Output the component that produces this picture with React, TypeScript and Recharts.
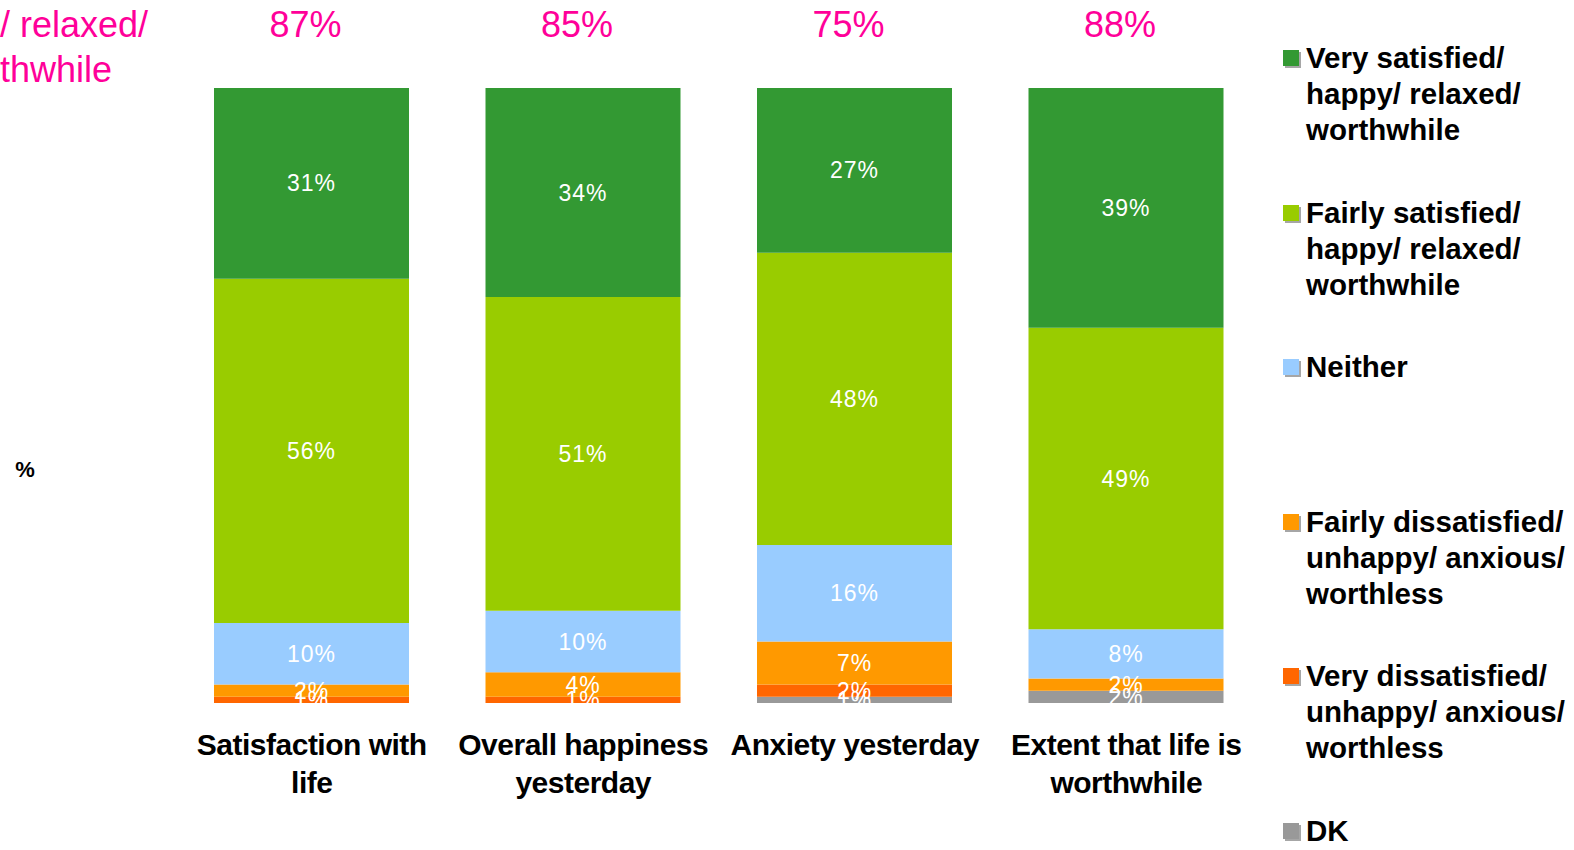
import React from 'react';
import { BarChart, Bar, XAxis, YAxis, LabelList, Legend } from 'recharts';

const categories = ['Satisfaction with life', 'Overall happiness yesterday', 'Anxiety yesterday', 'Extent that life is worthwhile'];
const categoryLines = [['Satisfaction with', 'life'], ['Overall happiness', 'yesterday'], ['Anxiety yesterday'], ['Extent that life is', 'worthwhile']];
const verySatisfied = [31, 34, 26.8, 39];
const fairlySatisfied = [56, 51, 47.5, 49];
const neither = [10, 10, 15.7, 8];
const fairlyDissatisfied = [2, 4, 7, 2];
const veryDissatisfied = [1, 1, 2, 0];
const dontKnow = [0, 0, 1, 2];
const netSatisfied = [87, 85, 75, 88];

const seriesKeys = ['verySat', 'fairlySat', 'neither', 'fairlyDis', 'veryDis', 'dk'];
const seriesNames = [
  ['Very satisfied/', 'happy/ relaxed/', 'worthwhile'],
  ['Fairly satisfied/', 'happy/ relaxed/', 'worthwhile'],
  ['Neither'],
  ['Fairly dissatisfied/', 'unhappy/ anxious/', 'worthless'],
  ['Very dissatisfied/', 'unhappy/ anxious/', 'worthless'],
  ['DK'],
];
const seriesColors = ['#339933', '#99CC00', '#99CCFF', '#FF9900', '#FF6600', '#999999'];
const seriesValues = [verySatisfied, fairlySatisfied, neither, fairlyDissatisfied, veryDissatisfied, dontKnow];

const data = categories.map((c, i) => {
  const row: any = { name: c, net: netSatisfied[i] };
  seriesKeys.forEach((k, s) => { row[k] = seriesValues[s][i]; });
  return row;
});

const FONT = '"Liberation Sans", Arial, sans-serif';

const Tick = (props: any) => {
  const { x, y, payload } = props;
  const lines = categoryLines[payload.index] || [payload.value];
  return (
    <text x={x} y={y} textAnchor="middle" fontFamily={FONT} fontSize={30} fontWeight="bold" fill="#000" letterSpacing={-0.5}>
      {lines.map((l, i) => (
        <tspan key={i} x={x} dy={i === 0 ? 44 : 38}>{l}</tspan>
      ))}
    </text>
  );
};

const ValueLabel = (props: any) => {
  const { x, y, width, height, value } = props;
  if (value === undefined || value === null) return null;
  return (
    <text x={x + width / 2} y={y + height / 2} dy={8} textAnchor="middle" fontFamily={FONT} fontSize={23} fill="#fff" letterSpacing={1}>
      {Math.round(value)}%
    </text>
  );
};

const NetLabel = (props: any) => {
  const { x, width, value } = props;
  return (
    <text x={x + width / 2 - 6} y={37} textAnchor="middle" fontFamily={FONT} fontSize={36} fill="#FF0099">
      {value}%
    </text>
  );
};

const LegendContent = () => (
  <div style={{ fontFamily: FONT, fontSize: 29.5, fontWeight: 'bold', color: '#000', lineHeight: '36px' }}>
    {seriesNames.map((lines, i) => (
      <div key={i} style={{ position: 'absolute', left: 0, top: i * 154.5, whiteSpace: 'nowrap' }}>
        <div style={{ position: 'absolute', left: 0, top: 10, width: 16, height: 16, background: seriesColors[i], boxShadow: '2px 2px 0 rgba(0,0,0,0.35)' }} />
        <div style={{ position: 'absolute', left: 23, top: 0 }}>
          {lines.map((l, j) => <div key={j}>{l}</div>)}
        </div>
      </div>
    ))}
  </div>
);

const stackOrder = [5, 4, 3, 2, 1, 0];

export default function App() {
  return (
    <div style={{ position: 'absolute', left: 0, top: 0, width: 1574, height: 850, background: '#fff' }}>
      <BarChart width={1574} height={850} data={data} margin={{ top: 88, right: 312, bottom: 47, left: 176 }}>
        <XAxis dataKey="name" axisLine={false} tickLine={false} height={100} interval={0} tick={<Tick />} />
        <YAxis hide domain={[0, 100]} />
        <Legend
          layout="horizontal"
          verticalAlign="middle"
          align="center"
          content={<LegendContent />}
          wrapperStyle={{ position: 'absolute', left: 1283, top: 40, width: 290, height: 800 }}
        />
        {stackOrder.map((s) => (
          <Bar key={seriesKeys[s]} dataKey={seriesKeys[s]} stackId="a" fill={seriesColors[s]} barSize={195} isAnimationActive={false}>
            <LabelList dataKey={seriesKeys[s]} content={<ValueLabel />} />
            {s === 0 ? <LabelList dataKey="net" content={<NetLabel />} /> : null}
          </Bar>
        ))}
      </BarChart>
      <svg width={1574} height={850} style={{ position: 'absolute', left: 0, top: 0, pointerEvents: 'none' }}>
        <text x={0} y={37} fontFamily={FONT} fontSize={36} fill="#FF0099">/ relaxed/</text>
        <text x={0} y={82} fontFamily={FONT} fontSize={36} fill="#FF0099">thwhile</text>
        <text x={25} y={477} textAnchor="middle" fontFamily={FONT} fontSize={22} fontWeight="bold" fill="#000">%</text>
      </svg>
    </div>
  );
}
